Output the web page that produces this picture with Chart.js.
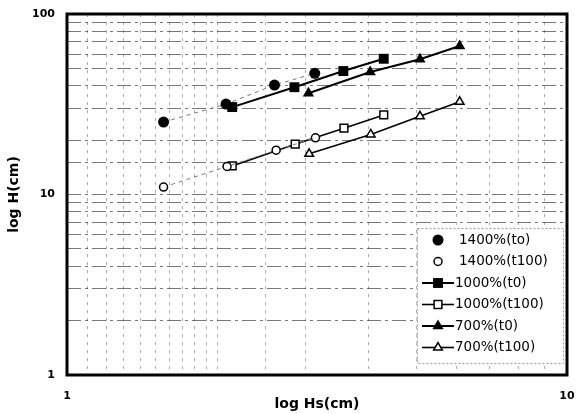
<!DOCTYPE html>
<html>
<head>
<meta charset="utf-8">
<script src="https://cdn.jsdelivr.net/npm/chart.js@4.4.1/dist/chart.umd.min.js"></script>
<style>
  html, body { margin: 0; padding: 0; background: #ffffff; }
  #wrap { width: 576px; height: 414px; }
</style>
</head>
<body>
<div id="wrap"><canvas id="c" width="576" height="414"></canvas></div>
<script>
// Hs (cm) and H (cm) for each mixing ratio, before (t0) and after 100 cycles (t100)
const hs1400t0   = [1.56, 2.08, 2.60, 3.13];
const h1400t0    = [25.2, 31.7, 40.4, 46.9];
const hs1400t100 = [1.56, 2.09, 2.62, 3.14];
const h1400t100  = [11.0, 14.3, 17.6, 20.6];
const hs1000t0   = [2.14, 2.85, 3.57, 4.30];
const h1000t0    = [30.5, 39.3, 48.3, 56.5];
const hs1000t100 = [2.14, 2.86, 3.58, 4.30];
const h1000t100  = [14.4, 19.0, 23.3, 27.6];
const hs700t0    = [3.04, 4.04, 5.08, 6.10];
const h700t0     = [36.4, 47.7, 56.1, 66.5];
const hs700t100  = [3.05, 4.05, 5.08, 6.10];
const h700t100   = [16.8, 21.5, 27.1, 32.6];

const seriesNames = ['1400%(to)', '1400%(t100)', '1000%(t0)', '1000%(t100)', '700%(t0)', '700%(t100)'];
const decadeTicks = [1, 10, 100];

const pts = (xs, ys) => xs.map((x, i) => ({ x: x, y: ys[i] }));

function series(name, xs, ys, style) {
  return Object.assign({
    label: name,
    data: pts(xs, ys),
    showLine: true,
    borderColor: '#000',
    pointBorderColor: '#000',
    pointHoverRadius: 0
  }, style);
}

const datasets = [
  series(seriesNames[0], hs1400t0, h1400t0, {
    pointStyle: 'circle', pointRadius: 5.5, pointBackgroundColor: '#000', pointBorderWidth: 0,
    borderColor: '#777', borderWidth: 1, borderDash: [4, 4], legendLine: false
  }),
  series(seriesNames[1], hs1400t100, h1400t100, {
    pointStyle: 'circle', pointRadius: 4, pointBackgroundColor: '#fff', pointBorderWidth: 1.5,
    borderColor: '#777', borderWidth: 1, borderDash: [4, 4], legendLine: false
  }),
  series(seriesNames[2], hs1000t0, h1000t0, {
    pointStyle: 'rect', pointRadius: 7, pointBackgroundColor: '#000', pointBorderWidth: 0,
    borderWidth: 2, legendLine: true
  }),
  series(seriesNames[3], hs1000t100, h1000t100, {
    pointStyle: 'rect', pointRadius: 5.5, pointBackgroundColor: '#fff', pointBorderWidth: 1.5,
    borderWidth: 1.6, legendLine: true
  }),
  series(seriesNames[4], hs700t0, h700t0, {
    pointStyle: 'triangle', pointRadius: 6.5, pointBackgroundColor: '#000', pointBorderWidth: 0,
    borderWidth: 2, legendLine: true
  }),
  series(seriesNames[5], hs700t100, h700t100, {
    pointStyle: 'triangle', pointRadius: 5, pointBackgroundColor: '#fff', pointBorderWidth: 1.5,
    borderWidth: 1.6, legendLine: true
  })
];

// marker drawing for the in-plot legend
function drawMarker(ctx, ds, x, y) {
  const r = ds.pointRadius;
  ctx.save();
  ctx.beginPath();
  if (ds.pointStyle === 'circle') {
    ctx.arc(x, y, r, 0, Math.PI * 2);
  } else if (ds.pointStyle === 'rect') {
    const s = Math.SQRT1_2 * r;
    ctx.rect(x - s, y - s, 2 * s, 2 * s);
  } else {
    ctx.moveTo(x, y - r);
    ctx.lineTo(x + Math.sin(2 * Math.PI / 3) * r, y - Math.cos(2 * Math.PI / 3) * r);
    ctx.lineTo(x + Math.sin(4 * Math.PI / 3) * r, y - Math.cos(4 * Math.PI / 3) * r);
    ctx.closePath();
  }
  ctx.fillStyle = ds.pointBackgroundColor;
  ctx.fill();
  if (ds.pointBorderWidth > 0) {
    ctx.lineWidth = ds.pointBorderWidth;
    ctx.strokeStyle = '#000';
    ctx.stroke();
  }
  ctx.restore();
}

const framePlugin = {
  id: 'frameAndLegend',
  afterDraw(chart) {
    const ctx = chart.ctx;
    const a = chart.chartArea;

    // legend box
    const bx = 417, by = 228, bw = 146, bh = 135;
    ctx.save();
    ctx.fillStyle = '#fff';
    ctx.fillRect(bx, by, bw, bh);
    ctx.setLineDash([2, 2]);
    ctx.strokeStyle = '#999';
    ctx.lineWidth = 1;
    ctx.strokeRect(bx + 0.5, by + 0.5, bw, bh);
    ctx.setLineDash([]);

    const rowY0 = 240, rowStep = 21.5;
    chart.data.datasets.forEach((ds, i) => {
      const y = rowY0 + i * rowStep;
      const mx = 438;
      if (ds.legendLine) {
        ctx.beginPath();
        ctx.moveTo(422, y);
        ctx.lineTo(454, y);
        ctx.lineWidth = ds.borderWidth;
        ctx.strokeStyle = '#000';
        ctx.stroke();
      }
      drawMarker(ctx, ds, mx, y);
      ctx.fillStyle = '#000';
      ctx.font = '13.5px "DejaVu Sans"';
      ctx.textBaseline = 'middle';
      ctx.textAlign = 'left';
      ctx.fillText(ds.label, ds.legendLine ? 455 : 459, y);
    });

    // heavy plot frame
    ctx.strokeStyle = '#000';
    ctx.lineWidth = 3;
    ctx.strokeRect(a.left, a.top, a.right - a.left, a.bottom - a.top);
    ctx.restore();
  }
};

const tickFont = { family: 'DejaVu Sans', size: 11, weight: 'bold' };
const titleFont = { family: 'DejaVu Sans', size: 14, weight: 'bold' };
const decadeLabel = v => (decadeTicks.includes(Number(v)) ? String(v) : '');

new Chart(document.getElementById('c'), {
  type: 'scatter',
  data: { datasets: datasets },
  options: {
    responsive: false,
    animation: false,
    devicePixelRatio: 1,
    layout: { padding: { left: 0, right: 9, top: 14, bottom: 0 } },
    plugins: { legend: { display: false }, tooltip: { enabled: false } },
    scales: {
      x: {
        type: 'logarithmic',
        min: 1, max: 10,
        border: { display: false, dash: [3, 5] },
        grid: { color: 'rgba(70,70,70,0.45)', lineWidth: 1, drawTicks: false },
        ticks: { autoSkip: false, maxRotation: 0, padding: 15, color: '#000', font: tickFont, callback: decadeLabel },
        title: { display: true, text: 'log Hs(cm)', color: '#000', font: titleFont, padding: { top: 0, bottom: 1 } },
        afterFit(scale) { scale.height = 39; scale.paddingLeft = 0; scale.paddingRight = 0; }
      },
      y: {
        type: 'logarithmic',
        min: 1, max: 100,
        border: { display: false, dash: [14, 4, 3, 4] },
        grid: { color: 'rgba(30,30,30,0.6)', lineWidth: 1, drawTicks: false },
        ticks: { autoSkip: false, padding: 12, color: '#000', font: tickFont, callback: decadeLabel },
        title: { display: true, text: 'log H(cm)', color: '#000', font: titleFont, padding: { top: 6, bottom: 0 } },
        afterFit(scale) { scale.width = 67; scale.paddingTop = 0; scale.paddingBottom = 0; }
      }
    }
  },
  plugins: [framePlugin]
});
</script>
</body>
</html>
